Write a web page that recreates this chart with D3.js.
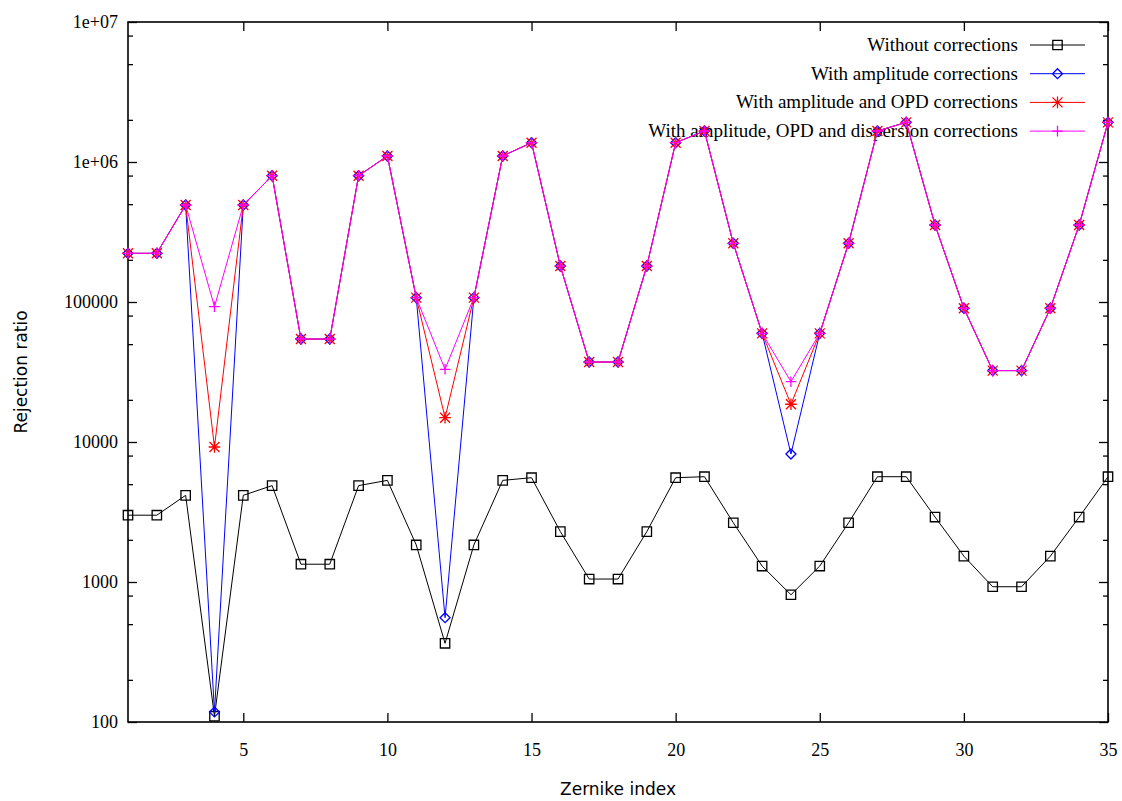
<!DOCTYPE html>
<html>
<head>
<meta charset="utf-8">
<script src="https://cdn.jsdelivr.net/npm/d3@7"></script>
<style>
  body { margin: 0; background: #fff; }
  svg { display: block; }
</style>
</head>
<body>
<div id="chart"></div>
<script>
// Zernike index 1..35
var zernike = d3.range(1, 36);

var withoutCorr = [3000, 3000, 4160, 110, 4160, 4880, 1340, 1340, 4880, 5320,
  1840, 365, 1840, 5320, 5560, 2290, 1050, 1050, 2290, 5560,
  5650, 2650, 1300, 811, 1300, 2650, 5650, 5650, 2910, 1530,
  925, 925, 1530, 2910, 5650];

var ampCorr = [222700, 222700, 493000, 118, 493000, 798000, 54400, 54400, 798000, 1104000,
  107400, 556, 107400, 1104000, 1374000, 180700, 37260, 37260, 180700, 1374000,
  1665000, 262600, 59700, 8210, 59700, 262600, 1665000, 1920000, 354800, 90200,
  32350, 32350, 90200, 354800, 1920000];

var ampOpdCorr = [222700, 222700, 493000, 9210, 493000, 798000, 54400, 54400, 798000, 1104000,
  107400, 14920, 107400, 1104000, 1374000, 180700, 37260, 37260, 180700, 1374000,
  1665000, 262600, 59700, 18600, 59700, 262600, 1665000, 1920000, 354800, 90200,
  32350, 32350, 90200, 354800, 1920000];

var ampOpdDispCorr = [222700, 222700, 493000, 92600, 493000, 798000, 54400, 54400, 798000, 1104000,
  107400, 33050, 107400, 1104000, 1374000, 180700, 37260, 37260, 180700, 1374000,
  1665000, 262600, 59700, 26970, 59700, 262600, 1665000, 1920000, 354800, 90200,
  32350, 32350, 90200, 354800, 1920000];

var seriesNames = ["Without corrections", "With amplitude corrections",
  "With amplitude and OPD corrections", "With amplitude, OPD and dispersion corrections"];
var seriesColors = ["#000000", "#0000ff", "#ff0000", "#ff00ff"];
var seriesMarkers = ["square", "diamond", "star", "plus"];

var xTicks = [5, 10, 15, 20, 25, 30, 35];
var yTicks = [100, 1000, 10000, 100000, 1000000, 10000000];
var yTickLabels = ["100", "1000", "10000", "100000", "1e+06", "1e+07"];
var yMinorFactors = [2, 5, 8];

var width = 1122,
  height = 801;
var margin = { top: 22, right: 14, bottom: 79, left: 128 };
var serif = "'Liberation Serif', 'Times New Roman', serif";

var x = d3.scaleLinear().domain([1, 35]).range([margin.left, width - margin.right]);
var y = d3.scaleLog().domain([100, 1e7]).range([height - margin.bottom, margin.top]);

var svg = d3.select("#chart").append("svg")
  .attr("width", width)
  .attr("height", height);

// minor ticks for the log axis
var yMinor = [];
yTicks.slice(0, -1).forEach(function(t) {
  yMinorFactors.forEach(function(f) { yMinor.push(t * f); });
});

var x0 = x.range()[0], x1 = x.range()[1], y0 = y.range()[0], y1 = y.range()[1];

function noDomain(g) {
  g.select(".domain").remove();
  g.attr("font-family", null).attr("font-size", null);
}

// axes (ticks pointing inward like gnuplot)
svg.append("g")
  .attr("transform", "translate(0," + y0 + ")")
  .call(d3.axisBottom(x).tickValues(xTicks).tickSizeInner(-9).tickSizeOuter(0).tickPadding(21))
  .call(noDomain);

svg.append("g")
  .attr("transform", "translate(0," + y1 + ")")
  .call(d3.axisTop(x).tickValues(xTicks).tickSizeInner(-9).tickSizeOuter(0).tickFormat(""))
  .call(noDomain);

svg.append("g")
  .attr("transform", "translate(" + x0 + ",0)")
  .call(d3.axisLeft(y).tickValues(yTicks).tickSizeInner(-9).tickSizeOuter(0).tickPadding(10)
    .tickFormat(function(d, i) { return yTickLabels[i]; }))
  .call(noDomain);

svg.append("g")
  .attr("transform", "translate(" + x1 + ",0)")
  .call(d3.axisRight(y).tickValues(yTicks).tickSizeInner(-9).tickSizeOuter(0).tickFormat(""))
  .call(noDomain);

svg.append("g")
  .attr("transform", "translate(" + x0 + ",0)")
  .call(d3.axisLeft(y).tickValues(yMinor).tickSizeInner(-5).tickSizeOuter(0).tickFormat(""))
  .call(noDomain);

svg.append("g")
  .attr("transform", "translate(" + x1 + ",0)")
  .call(d3.axisRight(y).tickValues(yMinor).tickSizeInner(-5).tickSizeOuter(0).tickFormat(""))
  .call(noDomain);

svg.selectAll(".tick line").attr("stroke", "#000").attr("stroke-width", 1.3);
svg.selectAll(".tick text")
  .style("font-family", serif)
  .style("font-size", "18px")
  .attr("fill", "#000");

// frame
svg.append("rect")
  .attr("x", x0).attr("y", y1)
  .attr("width", x1 - x0).attr("height", y0 - y1)
  .attr("fill", "none")
  .attr("stroke", "#000")
  .attr("stroke-width", 1.6);

// axis titles
svg.append("text")
  .attr("x", (x0 + x1) / 2)
  .attr("y", 795)
  .attr("text-anchor", "middle")
  .style("font-family", "'DejaVu Sans', sans-serif")
  .style("font-size", "17px")
  .text("Zernike index");

svg.append("text")
  .attr("transform", "translate(27," + (y0 + y1) / 2 + ") rotate(-90)")
  .attr("text-anchor", "middle")
  .style("font-family", "'DejaVu Sans', sans-serif")
  .style("font-size", "17px")
  .text("Rejection ratio");

// marker shapes
function markerPath(type) {
  if (type == "square") return "M-4.7,-4.7h9.4v9.4h-9.4Z";
  if (type == "diamond") return "M0,-5L5,0L0,5L-5,0Z";
  if (type == "plus") return "M-5.3,0H5.3M0,-5.3V5.3";
  var d = 5;
  return "M-5.8,0H5.8M0,-5.8V5.8M" + (-d) + "," + (-d) + "L" + d + "," + d + "M" + (-d) + "," + d + "L" + d + "," + (-d);
}

// legend (drawn first so data lines go over it)
var legend = svg.append("g");
seriesNames.forEach(function(name, i) {
  var ly = 45 + i * 28.7;
  legend.append("text")
    .attr("x", 1018)
    .attr("y", ly + 6)
    .attr("text-anchor", "end")
    .style("font-family", serif)
    .style("font-size", "19px")
    .text(name);
  legend.append("line")
    .attr("x1", 1030).attr("x2", 1085)
    .attr("y1", ly).attr("y2", ly)
    .attr("stroke", seriesColors[i])
    .attr("stroke-width", 1);
  legend.append("path")
    .attr("d", markerPath(seriesMarkers[i]))
    .attr("transform", "translate(1057.5," + ly + ")")
    .attr("fill", "none")
    .attr("stroke", seriesColors[i])
    .attr("stroke-width", 1.3);
});

var allSeries = [withoutCorr, ampCorr, ampOpdCorr, ampOpdDispCorr];

var line = d3.line()
  .x(function(d) { return x(d.x); })
  .y(function(d) { return y(d.v); });

allSeries.forEach(function(vals, i) {
  var pts = zernike.map(function(z, j) { return { x: z, v: vals[j] }; });
  var g = svg.append("g");
  g.append("path")
    .datum(pts)
    .attr("d", line)
    .attr("fill", "none")
    .attr("stroke", seriesColors[i])
    .attr("stroke-width", 1);
  g.selectAll("path.mk")
    .data(pts)
    .enter()
    .append("path")
    .attr("class", "mk")
    .attr("d", markerPath(seriesMarkers[i]))
    .attr("transform", function(d) { return "translate(" + x(d.x) + "," + y(d.v) + ")"; })
    .attr("fill", "none")
    .attr("stroke", seriesColors[i])
    .attr("stroke-width", 1.3);
});
</script>
</body>
</html>
